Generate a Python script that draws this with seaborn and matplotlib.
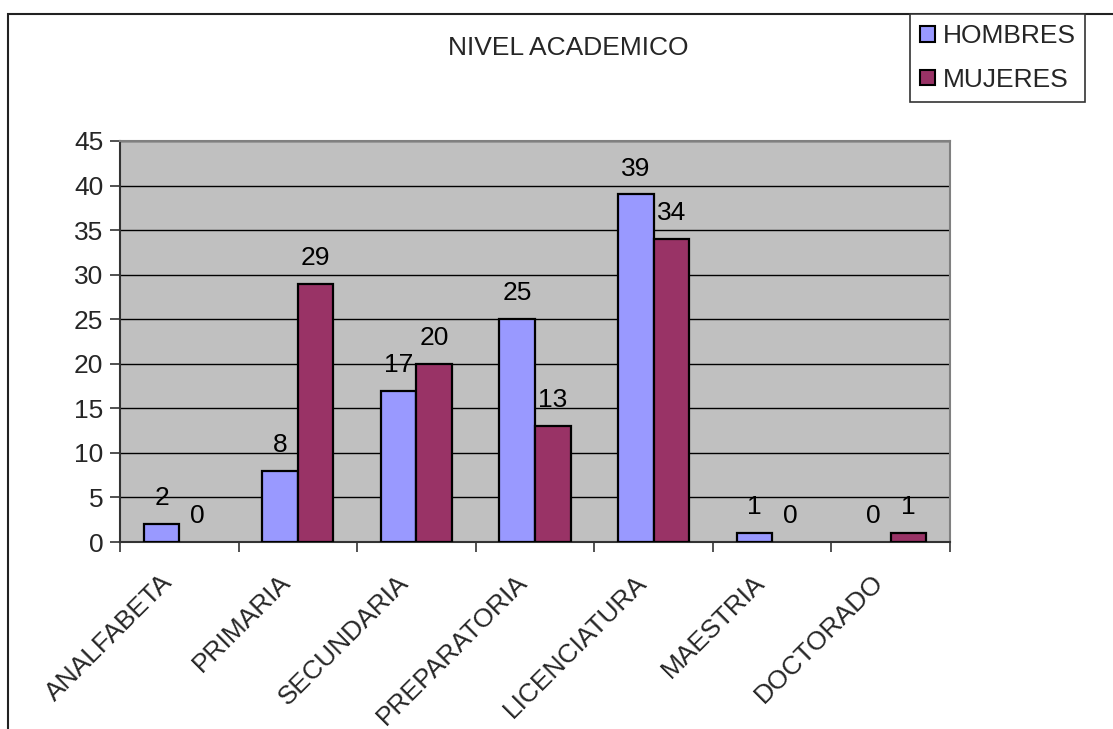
import matplotlib
matplotlib.use("Agg")
import matplotlib.pyplot as plt
from matplotlib.patches import Rectangle
from matplotlib.ticker import MultipleLocator, FixedLocator
from matplotlib.transforms import ScaledTranslation
import pandas as pd
import seaborn as sns

# Data
niveles = ["ANALFABETA", "PRIMARIA", "SECUNDARIA", "PREPARATORIA",
           "LICENCIATURA", "MAESTRIA", "DOCTORADO"]
hombres = [2, 8, 17, 25, 39, 1, 0]
mujeres = [0, 29, 20, 13, 34, 0, 1]
series = ["HOMBRES", "MUJERES"]
colores = ["#9999FF", "#993366"]

df = pd.DataFrame({
    "nivel": niveles * 2,
    "valor": hombres + mujeres,
    "sexo": [series[0]] * len(niveles) + [series[1]] * len(niveles),
})

sns.set_style("white")
plt.rcParams["font.family"] = ["Liberation Sans", "DejaVu Sans"]

FS = 19

fig = plt.figure(figsize=(11.13, 7.29), dpi=100)
ax = fig.add_axes([120 / 1113, 1 - 542 / 729, 830 / 1113, 401 / 729])

sns.barplot(data=df, x="nivel", y="valor", hue="sexo", order=niveles,
            hue_order=series, palette=colores, width=0.6, saturation=1,
            edgecolor="black", linewidth=1.6, errorbar=None, ax=ax, zorder=3)

ax.set_facecolor("#C0C0C0")
ax.set_xlim(-0.5, len(niveles) - 0.5)
ax.set_ylim(0, 45)
ax.yaxis.set_major_locator(MultipleLocator(5))
ax.grid(axis="y", color="black", linewidth=1.0, zorder=0)
ax.set_axisbelow(True)
ax.set_xlabel("")
ax.set_ylabel("")

# hide zero-height bars
for cont in ax.containers:
    for p in cont.patches:
        if p.get_height() == 0:
            p.set_linewidth(0)

for cont in ax.containers:
    ax.bar_label(cont, labels=[f"{v:g}" for v in cont.datavalues],
                 padding=10, fontsize=FS, color="black")

# category separators as minor ticks
ax.xaxis.set_minor_locator(FixedLocator([i - 0.5 for i in range(len(niveles) + 1)]))
ax.tick_params(axis="x", which="major", length=0, pad=27, labelsize=FS)
ax.tick_params(axis="x", which="minor", length=7, width=1.2, color="#333333",
               direction="out", bottom=True)
ax.tick_params(axis="y", which="major", length=7, width=1.2, color="#333333",
               direction="out", left=True, labelsize=FS, pad=5)
shift = ScaledTranslation(-11 / 100, 1 / 100, fig.dpi_scale_trans)
for lbl in ax.get_xticklabels():
    lbl.set_rotation(45)
    lbl.set_ha("right")
    lbl.set_va("center")
    lbl.set_rotation_mode("anchor")
    lbl.set_transform(lbl.get_transform() + shift)

for side in ["left", "bottom"]:
    ax.spines[side].set_color("#333333")
    ax.spines[side].set_linewidth(1.5)
for side in ["top", "right"]:
    ax.spines[side].set_color("#808080")
    ax.spines[side].set_linewidth(1.5)

ax.get_legend().remove()
handles = [Rectangle((0, 0), 1, 1, facecolor=c, edgecolor="black", linewidth=1.5)
           for c in colores]
leg = fig.legend(handles, series, loc="upper left",
                 bbox_to_anchor=(910 / 1113, 1 - 14 / 729),
                 fontsize=19, frameon=True, fancybox=False, framealpha=1,
                 edgecolor="#333333", handlelength=0.55, handleheight=0.55,
                 handletextpad=0.3, labelspacing=0.75, borderpad=0.38,
                 borderaxespad=0)
leg.get_frame().set_linewidth(1.2)

fig.text(568 / 1113, 1 - 48 / 729, "NIVEL ACADEMICO", ha="center",
         va="center", fontsize=19)

# outer chart border
fig.add_artist(Rectangle((8 / 1113, -0.5), 2.0, 1.5 - 14 / 729,
                         transform=fig.transFigure, fill=False,
                         edgecolor="#222222", linewidth=1.5, clip_on=False))

fig.savefig("out.png", dpi=100)
